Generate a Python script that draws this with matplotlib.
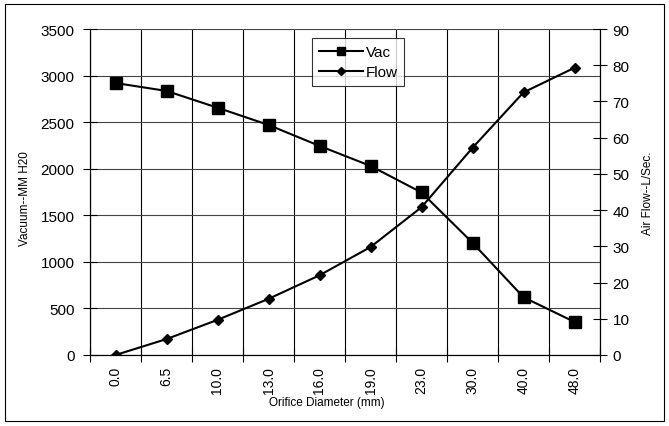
import numpy as np
import matplotlib
matplotlib.use('Agg')
import matplotlib.pyplot as plt
from matplotlib.patches import Rectangle

plt.rcParams['font.family'] = ['Liberation Sans', 'DejaVu Sans']

diameters = ['0.0', '6.5', '10.0', '13.0', '16.0', '19.0', '23.0', '30.0', '40.0', '48.0']
vac = [2920, 2835, 2655, 2470, 2245, 2030, 1745, 1205, 620, 355]
flow = [0.0, 4.4, 9.7, 15.5, 22.0, 29.8, 40.8, 57.2, 72.5, 79.3]

fig = plt.figure(figsize=(6.69, 4.27), dpi=100)
ax = fig.add_axes([90 / 669, 71 / 427, 510 / 669, 326 / 427])
ax2 = ax.twinx()

x = np.arange(len(diameters))
l1, = ax.plot(x, vac, color='black', lw=1.5, marker='s', markersize=8.5, label='Vac')
l2, = ax2.plot(x, flow, color='black', lw=1.5, marker='D', markersize=5.5, label='Flow')

ax.set_xlim(-0.5, len(diameters) - 0.5)
ax.set_ylim(0, 3500)
ax.set_yticks(np.arange(0, 3501, 500))
ax2.set_ylim(0, 90)
ax2.set_yticks(np.arange(0, 91, 10))

ax.set_xticks(x)
ax.set_xticklabels(diameters, rotation=90)
ax.set_xticks(np.arange(-0.5, len(diameters)), minor=True)
ax.tick_params(axis='x', which='major', length=0, pad=8, labelsize=10)
ax.tick_params(axis='x', which='minor', direction='inout', length=10, width=0.8)
ax.tick_params(axis='y', direction='inout', length=10, width=0.8, labelsize=11, pad=6)
ax2.tick_params(axis='y', direction='inout', length=10, width=0.8, labelsize=11, pad=4)

ax.grid(True, which='minor', axis='x', color='black', lw=0.8)
ax.grid(True, which='major', axis='y', color='#444444', lw=0.8)
ax.set_axisbelow(True)

for a in (ax, ax2):
    a.spines['top'].set_visible(False)
    for s in ('left', 'right', 'bottom'):
        a.spines[s].set_linewidth(0.8)

ax.set_xlabel('Orifice Diameter (mm)', fontsize=8.5, va='center')
ax.xaxis.set_label_coords(0.465, -0.145)
ax.set_ylabel('Vacuum--MM H20', fontsize=8.5, va='center')
ax.yaxis.set_label_coords(-0.127, 0.483)
ax2.set_ylabel('Air Flow--L/Sec.', fontsize=8.5, va='center')
ax2.yaxis.set_label_coords(1.094, 0.498)

leg = ax2.legend(handles=[l1, l2], loc='upper left', bbox_to_anchor=(312 / 669, 1 - 39 / 427),
                 bbox_transform=fig.transFigure, fontsize=11, frameon=True, fancybox=False,
                 edgecolor='black', handlelength=2.9, borderpad=0.45, labelspacing=0.4,
                 handletextpad=0.15, borderaxespad=0)
leg.get_frame().set_linewidth(0.8)
leg.legend_handles[0].set_markersize(6)
leg.legend_handles[1].set_markersize(4)

fig.patches.append(Rectangle((5 / 669, 5 / 427), 659 / 669, 417 / 427, transform=fig.transFigure,
                             fill=False, edgecolor='black', lw=0.8))

fig.savefig('out.png', dpi=100)
